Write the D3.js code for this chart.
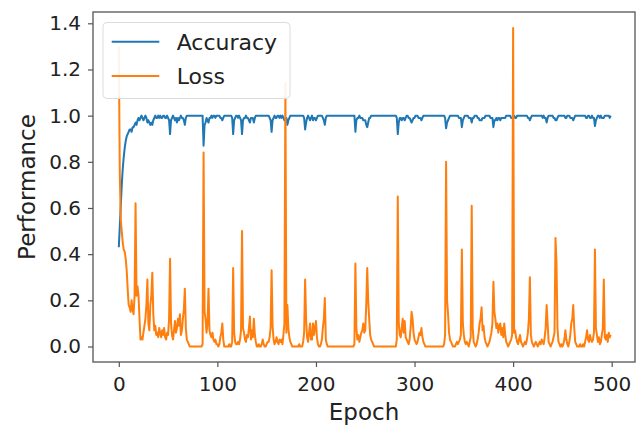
<!DOCTYPE html>
<html>
<head>
<meta charset="utf-8">
<script src="https://cdn.jsdelivr.net/npm/d3@7"></script>
<style>
  body { margin: 0; background: #fff; }
  svg { display: block; font-family: 'DejaVu Sans', sans-serif; }
</style>
</head>
<body>
<svg id="chart" width="641" height="426"></svg>
<script>
// values, one per epoch (0..499)
var accuracy = [
  0.43,0.52,0.61,0.70,0.77,0.82,0.86,0.89,0.91,0.92,0.93,0.94,0.94,0.93,0.95,0.95,0.96,0.97,0.96,0.98,
  0.99,0.98,0.99,1.00,0.99,0.98,0.99,1.00,0.99,0.97,0.98,0.97,0.96,0.97,0.96,0.98,0.99,1.00,0.99,0.99,
  1.00,0.99,1.00,0.99,0.99,1.00,1.00,0.99,0.99,1.00,0.99,0.98,0.92,0.98,0.99,1.00,0.99,0.98,0.99,0.97,
  0.99,0.98,0.99,1.00,0.99,0.99,0.98,0.96,0.99,1.00,1.00,1.00,1.00,1.00,1.00,1.00,1.00,1.00,1.00,1.00,
  1.00,1.00,1.00,1.00,1.00,1.00,0.87,0.96,0.97,0.99,0.98,0.97,0.99,0.99,1.00,0.99,1.00,1.00,0.99,1.00,
  1.00,1.00,1.00,0.99,0.99,0.98,0.99,1.00,1.00,1.00,1.00,1.00,1.00,1.00,1.00,0.99,0.92,0.98,0.99,1.00,
  1.00,0.99,1.00,0.99,0.98,0.92,0.98,0.99,0.99,1.00,0.99,0.99,0.98,0.97,0.99,0.99,0.99,0.97,0.99,1.00,
  1.00,1.00,1.00,1.00,1.00,1.00,1.00,1.00,1.00,1.00,1.00,1.00,1.00,0.99,0.98,0.93,0.98,0.99,1.00,0.99,
  0.99,1.00,1.00,0.99,1.00,0.99,1.00,0.99,0.98,0.98,0.99,0.96,0.98,0.99,1.00,1.00,1.00,1.00,1.00,1.00,
  1.00,1.00,1.00,1.00,1.00,1.00,1.00,1.00,0.99,0.94,0.97,0.99,1.00,0.99,0.98,0.99,1.00,0.98,0.99,0.99,
  0.98,0.99,1.00,1.00,1.00,1.00,1.00,0.99,0.98,0.96,0.99,1.00,1.00,1.00,1.00,1.00,1.00,1.00,1.00,1.00,
  1.00,1.00,1.00,1.00,1.00,1.00,1.00,1.00,1.00,1.00,1.00,1.00,1.00,1.00,1.00,1.00,1.00,1.00,1.00,1.00,
  0.93,0.98,0.99,0.99,1.00,0.99,0.99,0.99,0.98,0.98,0.98,0.96,0.95,0.97,0.99,0.99,1.00,1.00,1.00,1.00,
  1.00,1.00,1.00,1.00,1.00,1.00,1.00,1.00,1.00,1.00,1.00,1.00,1.00,1.00,1.00,1.00,1.00,1.00,1.00,1.00,
  1.00,1.00,0.99,0.92,0.97,0.99,0.99,0.98,0.99,0.99,0.98,0.99,1.00,1.00,0.99,0.99,0.98,0.97,0.98,0.99,
  0.99,1.00,1.00,1.00,0.99,0.99,0.99,0.98,0.99,1.00,1.00,1.00,1.00,1.00,1.00,1.00,1.00,1.00,1.00,1.00,
  1.00,1.00,1.00,1.00,1.00,1.00,1.00,1.00,1.00,1.00,1.00,0.99,0.945,0.97,0.98,0.99,1.00,1.00,1.00,1.00,
  1.00,1.00,1.00,1.00,1.00,0.99,0.99,0.99,0.95,0.98,0.99,1.00,1.00,1.00,1.00,0.99,0.99,0.99,0.97,0.99,
  0.99,1.00,1.00,1.00,0.99,0.99,0.98,0.98,0.98,0.99,0.99,0.99,1.00,1.00,1.00,1.00,1.00,0.99,0.99,0.99,
  0.95,0.98,0.98,0.99,0.98,0.99,0.99,0.98,0.99,0.99,0.99,0.99,0.99,1.00,1.00,1.00,1.00,1.00,0.99,0.99,
  0.99,1.00,0.99,0.99,1.00,1.00,1.00,1.00,1.00,1.00,1.00,1.00,1.00,1.00,1.00,0.99,0.99,0.98,0.99,1.00,
  1.00,1.00,1.00,1.00,1.00,1.00,1.00,1.00,1.00,1.00,0.99,1.00,0.99,0.99,0.97,0.99,1.00,1.00,1.00,1.00,
  1.00,0.99,0.99,0.98,0.98,0.99,1.00,1.00,1.00,1.00,1.00,1.00,1.00,0.99,0.99,1.00,1.00,1.00,0.99,0.99,
  0.99,0.98,0.99,1.00,1.00,1.00,1.00,1.00,1.00,1.00,1.00,1.00,1.00,1.00,0.99,0.99,1.00,1.00,0.99,0.99,
  1.00,0.99,0.99,0.955,0.98,0.99,1.00,1.00,0.99,1.00,0.99,0.99,0.99,1.00,1.00,1.00,1.00,1.00,0.99,1.00
];

var loss = [
  1.30,0.75,0.55,0.50,0.45,0.42,0.41,0.38,0.33,0.25,0.18,0.17,0.15,0.20,0.16,0.14,0.22,0.62,0.22,0.26,
  0.22,0.12,0.03,0.04,0.03,0.06,0.09,0.12,0.18,0.29,0.10,0.07,0.18,0.22,0.32,0.14,0.07,0.09,0.05,0.06,
  0.04,0.08,0.06,0.04,0.07,0.05,0.08,0.04,0.03,0.06,0.05,0.12,0.38,0.10,0.05,0.03,0.07,0.11,0.06,0.08,
  0.12,0.09,0.14,0.05,0.07,0.12,0.16,0.25,0.08,0.03,0.02,0.01,0.00,0.00,0.00,0.00,0.00,0.00,0.00,0.00,
  0.00,0.00,0.00,0.00,0.00,0.01,0.84,0.15,0.12,0.06,0.10,0.25,0.07,0.05,0.04,0.06,0.03,0.02,0.03,0.01,
  0.01,0.00,0.01,0.04,0.06,0.10,0.03,0.00,0.00,0.00,0.00,0.00,0.01,0.00,0.00,0.02,0.34,0.06,0.02,0.01,
  0.01,0.02,0.01,0.03,0.07,0.50,0.08,0.06,0.03,0.02,0.05,0.04,0.08,0.13,0.03,0.07,0.04,0.12,0.05,0.02,
  0.00,0.00,0.01,0.00,0.00,0.01,0.03,0.01,0.00,0.00,0.01,0.02,0.02,0.04,0.08,0.33,0.09,0.03,0.01,0.02,
  0.04,0.02,0.01,0.03,0.02,0.03,0.01,0.05,0.10,1.14,0.06,0.18,0.08,0.04,0.02,0.01,0.00,0.00,0.00,0.00,
  0.00,0.00,0.00,0.01,0.00,0.00,0.00,0.02,0.06,0.29,0.12,0.04,0.02,0.06,0.10,0.03,0.03,0.10,0.05,0.08,
  0.11,0.04,0.01,0.00,0.00,0.01,0.03,0.08,0.12,0.21,0.03,0.01,0.00,0.00,0.00,0.00,0.00,0.00,0.00,0.00,
  0.00,0.00,0.00,0.00,0.00,0.00,0.00,0.00,0.00,0.00,0.00,0.00,0.00,0.00,0.00,0.00,0.00,0.00,0.00,0.01,
  0.36,0.08,0.03,0.05,0.02,0.04,0.06,0.07,0.10,0.06,0.07,0.18,0.34,0.20,0.12,0.05,0.03,0.02,0.01,0.00,
  0.00,0.00,0.00,0.00,0.00,0.00,0.00,0.00,0.00,0.00,0.00,0.00,0.00,0.00,0.00,0.00,0.00,0.00,0.00,0.00,
  0.00,0.00,0.03,0.65,0.10,0.05,0.04,0.08,0.12,0.06,0.11,0.04,0.03,0.02,0.01,0.03,0.08,0.15,0.12,0.06,
  0.03,0.02,0.01,0.02,0.04,0.06,0.05,0.08,0.04,0.02,0.01,0.00,0.00,0.00,0.00,0.00,0.00,0.00,0.00,0.00,
  0.00,0.00,0.00,0.00,0.00,0.00,0.00,0.00,0.00,0.00,0.01,0.05,0.80,0.20,0.14,0.06,0.03,0.02,0.01,0.00,
  0.00,0.00,0.01,0.02,0.01,0.02,0.03,0.05,0.42,0.10,0.05,0.02,0.01,0.02,0.01,0.00,0.02,0.04,0.61,0.08,
  0.02,0.01,0.00,0.01,0.03,0.06,0.10,0.12,0.17,0.07,0.09,0.04,0.02,0.01,0.00,0.01,0.02,0.04,0.06,0.10,
  0.28,0.15,0.12,0.08,0.10,0.06,0.09,0.10,0.05,0.08,0.04,0.10,0.05,0.02,0.01,0.00,0.01,0.02,0.03,0.05,
  1.38,0.06,0.07,0.04,0.02,0.01,0.03,0.05,0.02,0.01,0.00,0.01,0.02,0.01,0.03,0.06,0.12,0.30,0.05,0.02,
  0.01,0.00,0.01,0.02,0.01,0.00,0.01,0.02,0.01,0.03,0.02,0.01,0.04,0.08,0.18,0.10,0.02,0.01,0.00,0.01,
  0.02,0.04,0.06,0.47,0.36,0.08,0.02,0.01,0.00,0.01,0.00,0.01,0.03,0.07,0.03,0.01,0.00,0.02,0.05,0.10,
  0.12,0.18,0.08,0.02,0.01,0.00,0.00,0.00,0.01,0.00,0.00,0.01,0.00,0.02,0.04,0.07,0.03,0.02,0.05,0.03,
  0.02,0.03,0.06,0.42,0.08,0.05,0.02,0.04,0.01,0.02,0.05,0.08,0.29,0.04,0.03,0.05,0.02,0.06,0.04,0.05
];

var seriesNames = ['Accuracy', 'Loss'];
var seriesColors = ['#1f77b4', '#ff7f0e'];
var xTicks = [0, 100, 200, 300, 400, 500];
var yTicks = [0.0, 0.2, 0.4, 0.6, 0.8, 1.0, 1.2, 1.4];

(function() {
    'use strict';

    var frame = {left: 93, right: 635, top: 12, bottom: 362};
    var svg = d3.select('#chart');

    // tick positions
    var x = d3.scaleLinear().domain([0, 500]).range([118.8, 611.7]);
    var y = d3.scaleLinear().domain([0, 1.4]).range([346.5, 23.3]);

    function drawAxes() {
        var xAxis = d3.axisBottom(x)
            .tickValues(xTicks)
            .tickSize(5)
            .tickPadding(10)
            .tickFormat(d3.format('d'));
        var yAxis = d3.axisLeft(y)
            .tickValues(yTicks)
            .tickSize(5)
            .tickPadding(7)
            .tickFormat(d3.format('.1f'));

        var gx = svg.append('g')
            .attr('transform', 'translate(0,' + frame.bottom + ')')
            .call(xAxis);
        var gy = svg.append('g')
            .attr('transform', 'translate(' + frame.left + ',0)')
            .call(yAxis);

        [gx, gy].forEach(function(g) {
            g.select('.domain').remove();
            g.selectAll('line').attr('stroke', '#555').attr('stroke-width', 1.2);
            g.selectAll('text')
                .attr('fill', '#222')
                .style('font-size', '20px')
                .style('font-family', 'DejaVu Sans');
        });
    }

    function drawLines() {
        var line = d3.line()
            .x(function(d, i) { return x(i); })
            .y(function(d) { return y(d); });

        [accuracy, loss].forEach(function(values, k) {
            svg.append('path')
                .datum(values)
                .attr('fill', 'none')
                .attr('stroke', seriesColors[k])
                .attr('stroke-width', 2)
                .attr('stroke-linejoin', 'round')
                .attr('d', line);
        });
    }

    function drawFrame() {
        svg.append('rect')
            .attr('x', frame.left)
            .attr('y', frame.top)
            .attr('width', frame.right - frame.left)
            .attr('height', frame.bottom - frame.top)
            .attr('fill', 'none')
            .attr('stroke', '#555')
            .attr('stroke-width', 1.3);
    }

    function drawLabels() {
        svg.append('text')
            .attr('x', (frame.left + frame.right) / 2)
            .attr('y', 420)
            .attr('text-anchor', 'middle')
            .attr('fill', '#222')
            .style('font-size', '23px')
            .text('Epoch');

        svg.append('text')
            .attr('transform', 'translate(35,' + (frame.top + frame.bottom) / 2 + ') rotate(-90)')
            .attr('text-anchor', 'middle')
            .attr('fill', '#222')
            .style('font-size', '23px')
            .text('Performance');
    }

    function drawLegend() {
        var g = svg.append('g');
        g.append('rect')
            .attr('x', 103)
            .attr('y', 22.5)
            .attr('width', 187)
            .attr('height', 76)
            .attr('rx', 4)
            .attr('fill', '#fff')
            .attr('fill-opacity', 0.9)
            .attr('stroke', '#dcdcdc')
            .attr('stroke-width', 1);

        seriesNames.forEach(function(name, k) {
            var cy = 41.7 + k * 34.3;
            g.append('line')
                .attr('x1', 111.7)
                .attr('x2', 159.3)
                .attr('y1', cy)
                .attr('y2', cy)
                .attr('stroke', seriesColors[k])
                .attr('stroke-width', 2);
            g.append('text')
                .attr('x', 176.7)
                .attr('y', cy + 8)
                .attr('fill', '#222')
                .style('font-size', '22px')
                .text(name);
        });
    }

    drawAxes();
    drawLines();
    drawFrame();
    drawLegend();
    drawLabels();
})();
</script>
</body>
</html>
